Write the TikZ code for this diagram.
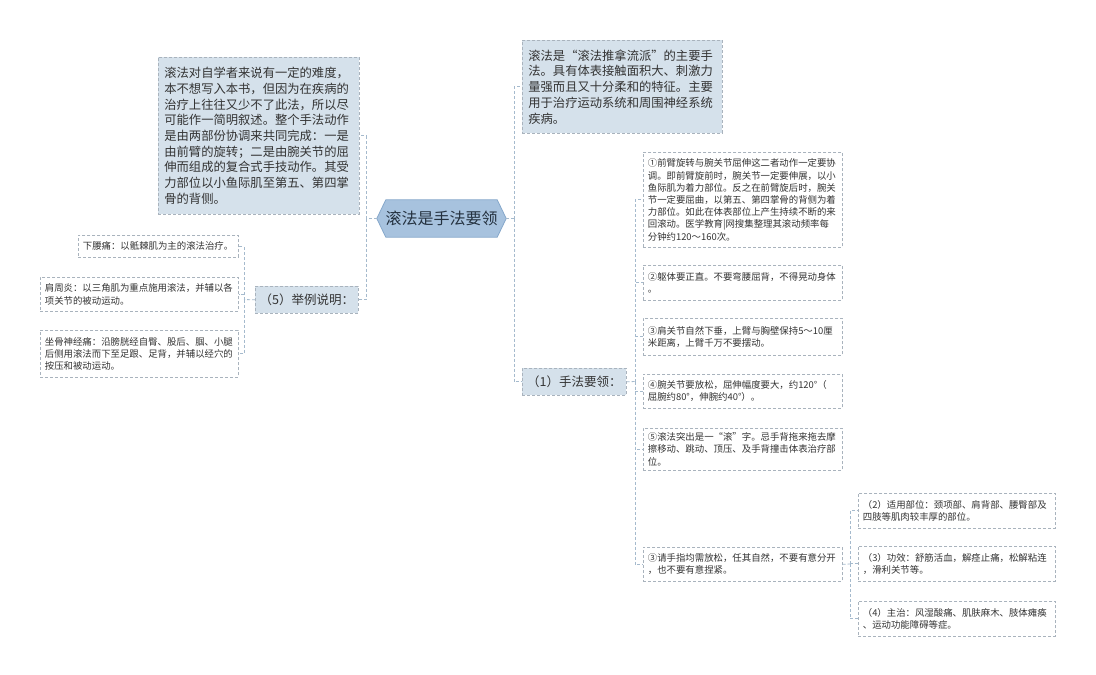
\documentclass[tikz,border=0pt]{standalone}
\usepackage{fontspec}
\newfontfamily\cjk{Noto Sans CJK SC}
\usetikzlibrary{backgrounds}
\definecolor{boxfill}{HTML}{D5E1EB}
\definecolor{boxline}{HTML}{A9B3BD}
\definecolor{connline}{HTML}{A5BACD}
\definecolor{txt}{HTML}{333333}
\definecolor{rootfill}{HTML}{A7C2DE}
\definecolor{rootline}{HTML}{86A8CB}
\definecolor{roottxt}{HTML}{24313F}
\begin{document}
\begin{tikzpicture}[x=1pt,y=-1pt,
  conn/.style={draw=connline, line width=0.8pt, dash pattern=on 3pt off 2pt},
  base/.style={anchor=north west, align=left, inner xsep=6pt, inner ysep=0pt, text=txt,
    draw=boxline, line width=0.7pt, dash pattern=on 3pt off 2pt},
  bigbox/.style={base, fill=boxfill, font=\cjk\fontsize{12.3pt}{15.7pt}\selectfont},
  leaf/.style={base, fill=white, inner xsep=4.5pt, font=\cjk\fontsize{9.4pt}{12.2pt}\selectfont},
  midbox/.style={base, fill=boxfill, align=center, inner xsep=2pt, font=\cjk\fontsize{12.5pt}{15pt}\selectfont},
  rootnode/.style={minimum width=129pt, minimum height=37pt, inner sep=0pt, text=roottxt,
    font=\cjk\fontsize{16pt}{19pt}\selectfont}
]
\useasboundingbox (0,0) rectangle (1096,675);

% root
\node[rootnode] (root) at (441.5,218.5) {滚法是手法要领};
\begin{scope}[on background layer]
\fill[white] (0,0) rectangle (1096,675);
\filldraw[fill=rootfill, draw=rootline, line width=0.8pt]
  (root.west) -- ([xshift=9pt]root.north west) -- ([xshift=-9pt]root.north east)
  -- (root.east) -- ([xshift=-9pt]root.south east) -- ([xshift=9pt]root.south west) -- cycle;
\end{scope}

% left side
\node[bigbox, text width=189pt, minimum height=157pt] (tl) at (158,57) {滚法对自学者来说有一定的难度，\\本不想写入本书，但因为在疾病的\\治疗上往往又少不了此法，所以尽\\可能作一简明叙述。整个手法动作\\是由两部份协调来共同完成：一是\\由前臂的旋转；二是由腕关节的屈\\伸而组成的复合式手技动作。其受\\力部位以小鱼际肌至第五、第四掌\\骨的背侧。};
\node[midbox, minimum width=103pt, minimum height=27pt] (n5) at (255,286) {（5）举例说明：};
\node[leaf, text width=151pt, minimum height=22pt] (l1) at (78,235) {下腰痛：以骶棘肌为主的滚法治疗。};
\node[leaf, text width=189pt, minimum height=34pt] (l2) at (40,277) {肩周炎：以三角肌为重点施用滚法，并辅以各\\项关节的被动运动。};
\node[leaf, text width=189pt, minimum height=47pt] (l3) at (40,330) {坐骨神经痛：沿膀胱经自臀、股后、腘、小腿\\后侧用滚法而下至足跟、足背，并辅以经穴的\\按压和被动运动。};

% right side
\node[bigbox, text width=188pt, minimum height=93pt] (tr) at (522,40) {滚法是“滚法推拿流派”的主要手\\法。具有体表接触面积大、刺激力\\量强而且又十分柔和的特征。主要\\用于治疗运动系统和周围神经系统\\疾病。};
\node[midbox, minimum width=104pt, minimum height=27pt] (n1) at (522,368) {（1）手法要领：};

\node[leaf, text width=190pt, minimum height=95pt] (a1) at (643,152) {①前臂旋转与腕关节屈伸这二者动作一定要协\\调。即前臂旋前时，腕关节一定要伸展，以小\\鱼际肌为着力部位。反之在前臂旋后时，腕关\\节一定要屈曲，以第五、第四掌骨的背侧为着\\力部位。如此在体表部位上产生持续不断的来\\回滚动。医学教育|网搜集整理其滚动频率每\\分钟约120～160次。};
\node[leaf, text width=190pt, minimum height=35pt] (a2) at (643,265) {②躯体要正直。不要弯腰屈背，不得晃动身体\\。};
\node[leaf, text width=190pt, minimum height=37pt] (a3) at (643,318) {③肩关节自然下垂，上臂与胸壁保持5～10厘\\米距离，上臂千万不要摆动。};
\node[leaf, text width=190pt, minimum height=34pt] (a4) at (643,374) {④腕关节要放松，屈伸幅度要大，约120°（\\屈腕约80°，伸腕约40°）。};
\node[leaf, text width=190pt, minimum height=42pt] (a5) at (643,428) {⑤滚法突出是一“滚”字。忌手背拖来拖去摩\\擦移动、跳动、顶压、及手背撞击体表治疗部\\位。};
\node[leaf, text width=190pt, minimum height=34pt] (a6) at (643,547) {③请手指均需放松，任其自然，不要有意分开\\，也不要有意捏紧。};

\node[leaf, text width=188pt, minimum height=35pt] (s2) at (858,493) {（2）适用部位：颈项部、肩背部、腰臀部及\\四肢等肌肉较丰厚的部位。};
\node[leaf, text width=188pt, minimum height=35pt] (s3) at (858,546) {（3）功效：舒筋活血，解痉止痛，松解粘连\\，滑利关节等。};
\node[leaf, text width=188pt, minimum height=35pt] (s4) at (858,601) {（4）主治：风湿酸痛、肌肤麻木、肢体瘫痪\\、运动功能障碍等症。};

% trunk coordinates
\coordinate (jl) at (366,218.5);
\coordinate (jr) at (514,218.5);
\coordinate (j5) at (244,299.5);
\coordinate (j1) at (635,381.5);
\coordinate (j6) at (850,564);

% connectors
\draw[conn] (root.west) -- (jl);
\draw[conn] (jl) |- (tl.east);
\draw[conn] (jl) |- (n5.east);
\draw[conn] (root.east) -- (jr);
\draw[conn] (jr) |- (tr.west);
\draw[conn] (jr) |- (n1.west);

\draw[conn] (n5.west) -- (j5);
\draw[conn] (j5) |- (l1.east);
\draw[conn] (j5) |- (l2.east);
\draw[conn] (j5) |- (l3.east);

\draw[conn] (n1.east) -- (j1);
\draw[conn] (j1) |- (a1.west);
\draw[conn] (j1) |- (a2.west);
\draw[conn] (j1) |- (a3.west);
\draw[conn] (j1) |- (a4.west);
\draw[conn] (j1) |- (a5.west);
\draw[conn] (j1) |- (a6.west);

\draw[conn] (a6.east) -- (j6);
\draw[conn] (j6) |- (s2.west);
\draw[conn] (j6) |- (s3.west);
\draw[conn] (j6) |- (s4.west);
\end{tikzpicture}
\end{document}
